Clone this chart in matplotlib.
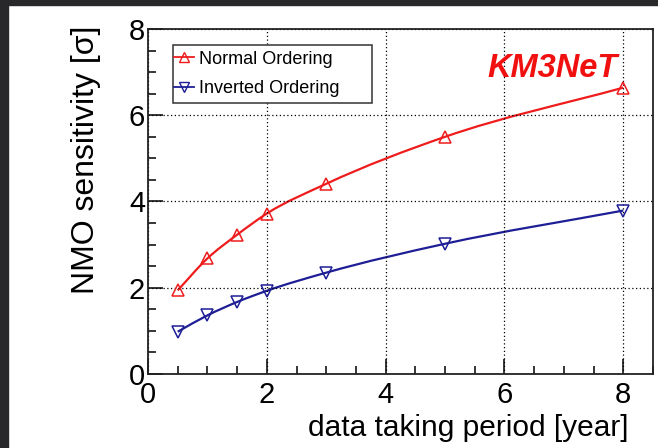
import matplotlib
matplotlib.use('Agg')
import matplotlib.pyplot as plt
from matplotlib.path import Path
from matplotlib.patches import PathPatch, Rectangle
from matplotlib.lines import Line2D
from matplotlib.ticker import MultipleLocator
import numpy as np

plt.rcParams['font.family'] = ['Liberation Sans', 'DejaVu Sans']

years = [0.5, 1.0, 1.5, 2.0, 3.0, 5.0, 8.0]
sens_normal = [1.94, 2.68, 3.23, 3.72, 4.41, 5.50, 6.64]
sens_inverted = [0.98, 1.36, 1.67, 1.93, 2.35, 3.02, 3.79]

red = '#ee1c1c'
blue = '#1e1e96'


def smooth_curve(ax, x, y, color):
    # Hermite curve through the points, drawn as cubic Bezier segments
    x = np.asarray(x)
    y = np.asarray(y)
    m = np.gradient(y, x)
    verts = [(x[0], y[0])]
    codes = [Path.MOVETO]
    for i in range(len(x) - 1):
        h = x[i + 1] - x[i]
        verts += [(x[i] + h / 3, y[i] + m[i] * h / 3),
                  (x[i + 1] - h / 3, y[i + 1] - m[i + 1] * h / 3),
                  (x[i + 1], y[i + 1])]
        codes += [Path.CURVE4] * 3
    ax.add_patch(PathPatch(Path(verts, codes), fill=False, edgecolor=color, lw=1.6))


fig = plt.figure(figsize=(6.58, 4.48), dpi=100)
ax = fig.add_axes([148 / 658, 74 / 448, 505 / 658, 345 / 448])

smooth_curve(ax, years, sens_normal, red)
smooth_curve(ax, years, sens_inverted, blue)
ax.plot(years, sens_normal, ls='none', marker='^', ms=8, mfc='none', mec=red, mew=1.1)
ax.plot(years, sens_inverted, ls='none', marker='v', ms=8, mfc='none', mec=blue, mew=1.1)

ax.set_xlim(0, 8.5)
ax.set_ylim(0, 8)
ax.xaxis.set_major_locator(MultipleLocator(2))
ax.xaxis.set_minor_locator(MultipleLocator(0.5))
ax.yaxis.set_major_locator(MultipleLocator(2))
ax.yaxis.set_minor_locator(MultipleLocator(0.5))
ax.tick_params(which='both', direction='in', labelsize=21, width=1.1)
ax.tick_params(which='major', length=11)
ax.tick_params(axis='x', which='major', pad=5)
ax.tick_params(axis='y', which='major', pad=2)
ax.tick_params(which='minor', length=6)
ax.grid(True, which='major', color='black', ls=(0, (1, 2)), lw=0.9)
for s in ax.spines.values():
    s.set_linewidth(1.3)
    s.set_color('#222222')

# legend box (ROOT style, fixed size)
ax.add_patch(Rectangle((0.0495, 0.7855), 0.394, 0.168, transform=ax.transAxes,
                       facecolor='white', edgecolor='#333333', lw=1.1, zorder=4))
handles = [Line2D([], [], color=red, marker='^', ms=7, mfc='none', mec=red, lw=1.3),
           Line2D([], [], color=blue, marker='v', ms=7, mfc='none', mec=blue, lw=1.3)]
leg = ax.legend(handles, ['Normal Ordering', 'Inverted Ordering'], loc='center left',
                bbox_to_anchor=(0.052, 0.8695), borderaxespad=0, fontsize=13,
                frameon=False, handlelength=1.1, borderpad=0,
                handletextpad=0.25, labelspacing=0.7)
leg.set_zorder(5)

ax.text(0.93, 0.885, 'KM3NeT', transform=ax.transAxes, color='#f01010', fontsize=23.5,
        fontweight='bold', fontstyle='italic', ha='right', va='center')

fig.text(0.955, 0.045, 'data taking period [year]', ha='right', va='center', fontsize=21.5)
fig.text(0.13, 0.942, 'NMO sensitivity [σ]', rotation=90, ha='center', va='top',
         fontsize=23)

# dark screenshot edges
fig.patches.append(Rectangle((0, 0), 8 / 658, 1, transform=fig.transFigure,
                             color='#28282b', zorder=10))
fig.patches.append(Rectangle((0, 1 - 5 / 448), 1, 5 / 448, transform=fig.transFigure,
                             color='#28282b', zorder=10))

fig.savefig('out.png', dpi=100)
